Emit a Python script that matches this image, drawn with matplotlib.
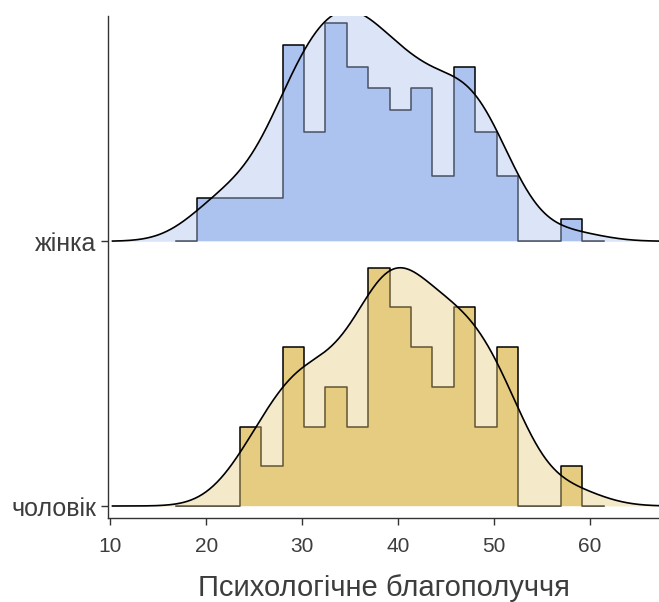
import numpy as np
import matplotlib
matplotlib.use("Agg")
import matplotlib.pyplot as plt

plt.rcParams['font.family'] = ['Liberation Sans', 'DejaVu Sans']

# histogram counts (20 bins, shared edges)
bin_start = 16.79
bin_width = 2.232
counts_f = [0, 2, 2, 2, 2, 9, 5, 10, 8, 7, 6, 7, 3, 8, 5, 3, 0, 0, 1, 0]
counts_m = [0, 0, 0, 2, 1, 4, 2, 3, 2, 6, 5, 4, 3, 5, 2, 4, 0, 0, 1, 0]

groups = ['чоловік', 'жінка']
xticks = [10, 20, 30, 40, 50, 60]
xlabel = 'Психологічне благополуччя'

colors = {'жінка': '#abc3ee', 'чоловік': '#e6cc80'}
bw = 3.31          # joint bandwidth
ridge_height = 0.9  # tallest ridge in y units

edges = bin_start + bin_width * np.arange(len(counts_f) + 1)
centers = edges[:-1] + bin_width / 2

rows = [(2, 'жінка', np.array(counts_f)), (1, 'чоловік', np.array(counts_m))]

# densities of both layers
used = np.nonzero(np.array(counts_f) + np.array(counts_m))[0]
grid = np.linspace(centers[used[0]] - 3 * bw, centers[used[-1]] + 3 * bw, 600)
hists, kdes = {}, {}
for pos, name, counts in rows:
    n = counts.sum()
    hists[name] = counts / (n * bin_width)
    sample = np.repeat(centers, counts)
    k = np.exp(-0.5 * ((grid[:, None] - sample[None, :]) / bw) ** 2).sum(1)
    kdes[name] = k / (n * bw * np.sqrt(2 * np.pi))
hist_scale = ridge_height / max(h.max() for h in hists.values())
kde_scale = ridge_height / max(k.max() for k in kdes.values())

fig = plt.figure(figsize=(6.59, 6.02), dpi=100)
ax = fig.add_axes([108 / 659, 84 / 602, 1 - 108 / 659, (586 - 84) / 602])

for pos, name, counts in rows:
    xs = np.repeat(edges, 2)[1:-1]
    ys = np.repeat(hists[name], 2) * hist_scale + pos
    ax.fill_between(xs, pos, ys, color=colors[name], lw=0, zorder=2)
    ax.plot(xs, ys, color='black', lw=1.1, zorder=3)
    ky = pos + kdes[name] * kde_scale
    ax.fill_between(grid, pos, ky, color=colors[name], alpha=0.42, lw=0, zorder=4)
    ax.plot(grid, ky, color='black', lw=1.2, zorder=5)

ax.set_xlim(9.74, 67.2)
ax.set_ylim(0.9547, 2.851)
ax.set_xticks(xticks)
ax.set_yticks([1, 2])
ax.set_yticklabels(groups, fontsize=18)
ax.set_xlabel(xlabel, fontsize=21, color='#3d3d3d', labelpad=13)
ax.tick_params(axis='x', labelsize=15, pad=9)
ax.tick_params(colors='#333333', labelcolor='#3d3d3d', length=5, width=1)
for s in ['top', 'right']:
    ax.spines[s].set_visible(False)
for s in ['left', 'bottom']:
    ax.spines[s].set_color('#333333')
    ax.spines[s].set_linewidth(1)

fig.savefig('out.png', dpi=100)
